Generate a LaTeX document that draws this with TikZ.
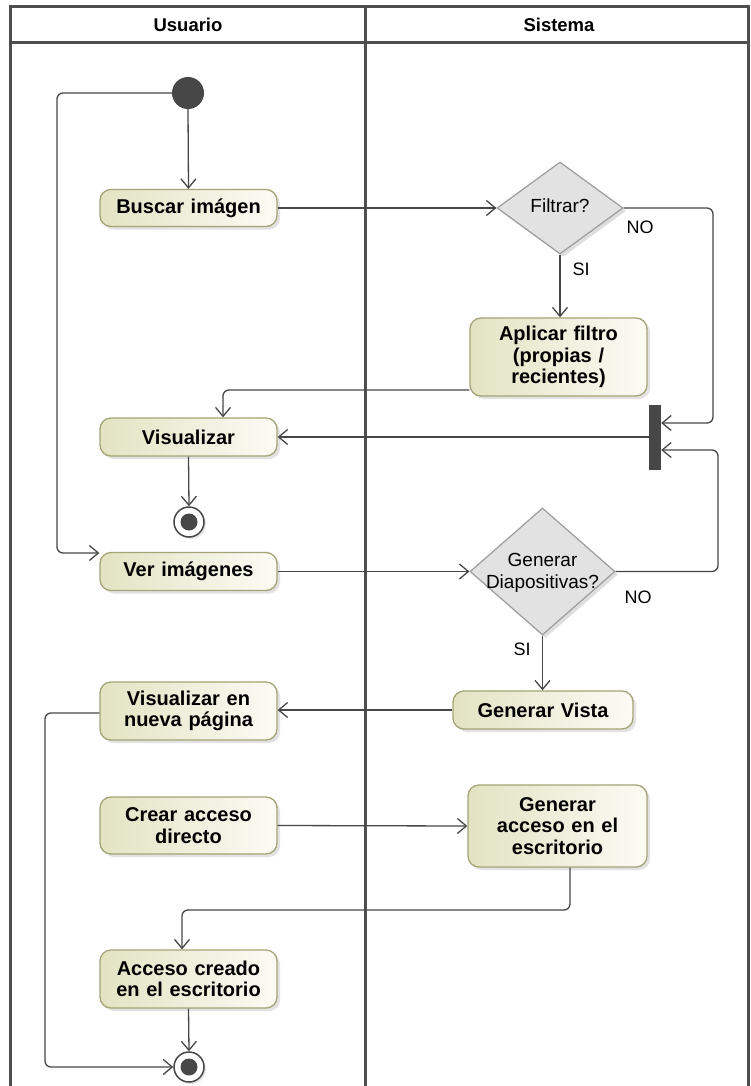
\documentclass[tikz,border=0pt]{standalone}
\usepackage{fontspec}
\setmainfont{Liberation Sans}
\usetikzlibrary{shapes.geometric,arrows.meta,shadows}
\definecolor{lanec}{HTML}{4E4E4E}
\definecolor{linec}{HTML}{474747}
\definecolor{actborder}{HTML}{A4A476}
\definecolor{actleft}{HTML}{E3E3C3}
\definecolor{actright}{HTML}{FBFBF5}
\definecolor{decfill}{HTML}{E2E2E2}
\definecolor{decborder}{HTML}{9C9C9C}
\tikzset{
  actbox/.style={rounded corners=11pt, draw=actborder, line width=1.3pt,
    left color=actleft, right color=actright,
    drop shadow={shadow xshift=3pt, shadow yshift=-3pt, fill=black!22},
    font=\fontsize{20}{21.5}\selectfont\bfseries, align=center,
    minimum width=177pt, text width=170pt, inner sep=0pt},
  decbox/.style={diamond, draw=decborder, line width=1.2pt, fill=decfill,
    drop shadow={shadow xshift=3pt, shadow yshift=-3pt, fill=black!25},
    inner sep=0pt},
  dectext/.style={font=\fontsize{19}{21.5}\selectfont, align=center},
  guard/.style={font=\fontsize{18}{20}\selectfont, inner sep=0pt},
  flow/.style={draw=linec, line width=1.3pt, rounded corners=6pt,
    -{Straight Barb[length=9pt,width=15pt,line width=1.3pt]}},
  flowplain/.style={draw=linec, line width=1.3pt, rounded corners=6pt},
  initnode/.style={circle, fill=linec, minimum size=32pt, inner sep=0pt},
  finalnode/.style={circle, draw=linec, line width=1.5pt, fill=white,
    minimum size=30pt, inner sep=0pt,
    drop shadow={shadow xshift=2pt, shadow yshift=-2pt, fill=black!20},
    path picture={\fill[linec] (path picture bounding box.center) circle (8.5pt);}},
  lane/.style={draw=lanec, line width=3pt},
  lanehead/.style={font=\fontsize{18.5}{20}\selectfont\bfseries, inner sep=0pt},
  barnode/.style={rectangle, fill=linec, minimum width=12pt, minimum height=65pt, inner sep=0pt}
}
\begin{document}
\begin{tikzpicture}[x=1pt,y=-1pt]
\useasboundingbox[fill=white] (0,0) rectangle (750,1086);
% swimlanes
\draw[lane] (10,1090) -- (10,7) -- (748,7) -- (748,1090);
\draw[lane] (10,43) -- (748,43);
\draw[lane] (365,7) -- (365,1090);
\node[lanehead] (hU) at (188,25) {Usuario};
\node[lanehead] (hS) at (559,25) {Sistema};

% nodes
\node[initnode] (init) at (188,93) {};
\node[actbox, minimum height=37pt] (buscar) at (188.5,208) {Buscar imágen};
\node[decbox, minimum width=126pt, minimum height=92pt] (filtrar) at (560,208) {};
\node[dectext] (filtrarT) at (560,206) {Filtrar?};
\node[actbox, minimum height=78pt] (aplicar) at (558.5,357) {Aplicar filtro\\(propias /\\recientes)};
\node[actbox, minimum height=38pt] (vis) at (188.5,437) {Visualizar};
\node[barnode] (bar) at (655,437.5) {};
\node[finalnode] (fin1) at (189,522) {};
\node[actbox, minimum height=38pt] (ver) at (188.5,571.5) {Ver imágenes};
\node[decbox, minimum width=145pt, minimum height=127pt] (gdiap) at (542.5,571.5) {};
\node[dectext] (gdiapT) at (542.5,573) {Generar\\Diapositivas?};
\node[actbox, minimum height=38pt, minimum width=180pt] (gvista) at (543,710) {Generar Vista};
\node[actbox, minimum height=58pt] (vnueva) at (188.5,711) {Visualizar en\\nueva página};
\node[actbox, minimum height=57pt] (crear) at (188.5,825.5) {Crear acceso\\directo};
\node[actbox, minimum height=82pt, minimum width=179pt] (genacc) at (557.5,826) {Generar\\acceso en el\\escritorio};
\node[actbox, minimum height=58pt] (acceso) at (188.5,979) {Acceso creado\\en el escritorio};
\node[finalnode] (fin2) at (189,1067) {};

% guards
\node[guard] (no1) at (640,227) {NO};
\node[guard] (si1) at (581,269) {SI};
\node[guard] (no2) at (638,597) {NO};
\node[guard] (si2) at (522,649) {SI};

% connectors
\draw[flow] (init.south) -- (buscar.north);
\draw[flow] (init.west) -- (57,93) -- (57,553) -- (ver.west |- 0,553);
\draw[flow] (buscar.east) -- (filtrar.west);
\draw[flow] (filtrar.south) -- (aplicar.north -| filtrar.south);
\draw[flow] (filtrar.east) -- (713,208) -- (713,423) -- (bar.east |- 0,423);
\draw[flow] (aplicar.west |- 0,390) -- (223,390) -- (223,0 |- vis.north);
\draw[flow] (bar.west |- vis.east) -- (vis.east);
\draw[flow] (vis.south) -- (fin1.north);
\draw[flow] (ver.east) -- (gdiap.west);
\draw[flow] (gdiap.east) -- (718,571.5) -- (718,450) -- (bar.east |- 0,450);
\draw[flow] (gdiap.south) -- (gvista.north -| gdiap.south);
\draw[flow] (gvista.west) -- (vnueva.east |- gvista.west);
\draw[flow] (vnueva.west |- 0,713) -- (45,713) -- (45,1067) -- (fin2.west);
\draw[flow] (crear.east) -- (genacc.west);
\draw[flow] (genacc.south -| 570,0) -- (570,910) -- (182,910) -- (182,0 |- acceso.north);
\draw[flow] (acceso.south) -- (fin2.north);
\end{tikzpicture}
\end{document}
